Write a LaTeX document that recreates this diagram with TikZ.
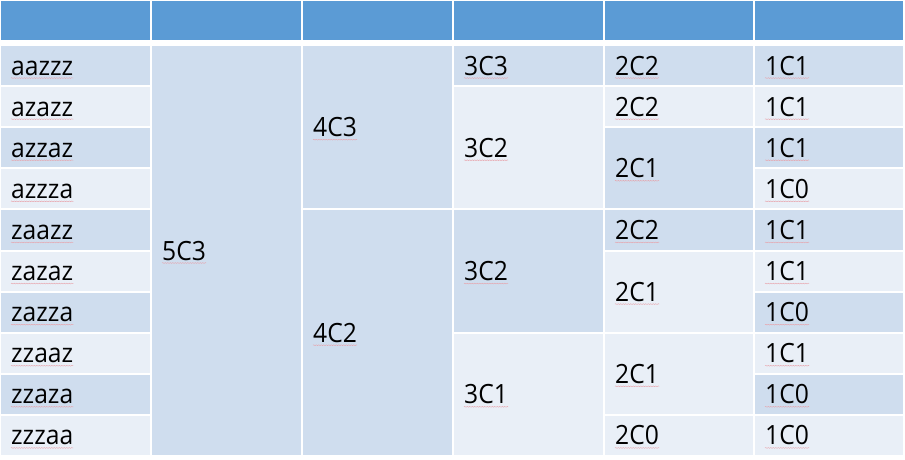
\documentclass[tikz,border=0pt]{standalone}
\usepackage{fontspec}
\setmainfont{Open Sans}[FakeStretch=0.93]
\usetikzlibrary{decorations.pathmorphing}
\definecolor{hdr}{HTML}{5B9BD5}
\definecolor{dk}{HTML}{CFDDEE}
\definecolor{lt}{HTML}{E9EFF7}
\definecolor{sq}{HTML}{E8A0A8}
\tikzset{
  lbl/.style={inner sep=0pt, font=\fontsize{26.5}{30}\selectfont, text=black},
  squig/.style={draw=sq, line width=0.4pt, decorate, decoration={snake, amplitude=0.4pt, segment length=2.5pt}}
}
% name, x1, x2, row start, row end, fill, text
\newcommand\tc[7]{%
  \fill[#6] ({#2pt+1pt},{-45pt-41.1pt*#4-1pt}) rectangle ({#3pt-1pt},{-45pt-41.1pt*#5+1pt});
  \node[lbl,anchor=base west] (#1) at ({#2pt+11pt},{-45pt-41.1pt*(#4+#5)/2-9.5pt}) {#7};
  \draw[squig] ([yshift=-3pt]#1.base west) -- ([yshift=-3pt]#1.base east);
}
\newcommand\hc[2]{%
  \fill[hdr] ({#1pt+1pt},-1.5pt) rectangle ({#2pt-1pt},-40.5pt);
}
\begin{document}
\begin{tikzpicture}
\fill[white] (0,0) rectangle (905pt,-460pt);
\useasboundingbox (0,0) rectangle (905pt,-460pt);
% header
\hc{0}{151}\hc{151}{302}\hc{302}{453}\hc{453}{604}\hc{604}{754}\hc{754}{904}
% column 0
\tc{a0}{0}{151}{0}{1}{dk}{aazzz}
\tc{a1}{0}{151}{1}{2}{lt}{azazz}
\tc{a2}{0}{151}{2}{3}{dk}{azzaz}
\tc{a3}{0}{151}{3}{4}{lt}{azzza}
\tc{a4}{0}{151}{4}{5}{dk}{zaazz}
\tc{a5}{0}{151}{5}{6}{lt}{zazaz}
\tc{a6}{0}{151}{6}{7}{dk}{zazza}
\tc{a7}{0}{151}{7}{8}{lt}{zzaaz}
\tc{a8}{0}{151}{8}{9}{dk}{zzaza}
\tc{a9}{0}{151}{9}{10}{lt}{zzzaa}
% column 1
\tc{b0}{151}{302}{0}{10}{dk}{5C3}
% column 2
\tc{c0}{302}{453}{0}{4}{dk}{4C3}
\tc{c1}{302}{453}{4}{10}{dk}{4C2}
% column 3
\tc{d0}{453}{604}{0}{1}{dk}{3C3}
\tc{d1}{453}{604}{1}{4}{lt}{3C2}
\tc{d2}{453}{604}{4}{7}{dk}{3C2}
\tc{d3}{453}{604}{7}{10}{lt}{3C1}
% column 4
\tc{e0}{604}{754}{0}{1}{dk}{2C2}
\tc{e1}{604}{754}{1}{2}{lt}{2C2}
\tc{e2}{604}{754}{2}{4}{dk}{2C1}
\tc{e3}{604}{754}{4}{5}{dk}{2C2}
\tc{e4}{604}{754}{5}{7}{lt}{2C1}
\tc{e5}{604}{754}{7}{9}{lt}{2C1}
\tc{e6}{604}{754}{9}{10}{lt}{2C0}
% column 5
\tc{f0}{754}{904}{0}{1}{dk}{1C1}
\tc{f1}{754}{904}{1}{2}{lt}{1C1}
\tc{f2}{754}{904}{2}{3}{dk}{1C1}
\tc{f3}{754}{904}{3}{4}{lt}{1C0}
\tc{f4}{754}{904}{4}{5}{dk}{1C1}
\tc{f5}{754}{904}{5}{6}{lt}{1C1}
\tc{f6}{754}{904}{6}{7}{dk}{1C0}
\tc{f7}{754}{904}{7}{8}{lt}{1C1}
\tc{f8}{754}{904}{8}{9}{dk}{1C0}
\tc{f9}{754}{904}{9}{10}{lt}{1C0}
\end{tikzpicture}
\end{document}
